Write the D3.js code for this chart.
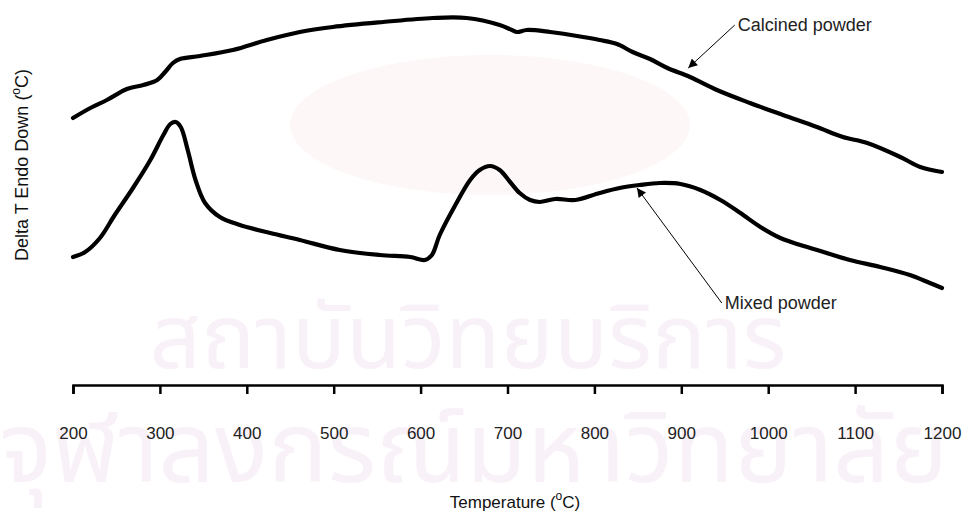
<!DOCTYPE html>
<html>
<head>
<meta charset="utf-8">
<script src="https://cdn.jsdelivr.net/npm/d3@7"></script>
<style>
  body { margin: 0; background: #fff; }
  svg text { font-family: "Liberation Sans", Arial, Helvetica, sans-serif; }
</style>
</head>
<body>
<div id="chart"></div>
<script>
// DTA traces: temperature (°C) and Delta T (arbitrary units)
var calcinedTemp = [200, 220, 239, 262, 281, 297, 306, 315, 323, 346, 384, 423, 461, 499, 557, 614, 653, 691, 705, 711, 722, 749, 787, 806, 826, 844, 864, 884, 910, 941, 979, 1017, 1056, 1086, 1114, 1152, 1175, 1200];
var calcinedDT = [10.68, 11.08, 11.40, 11.84, 12.00, 12.20, 12.52, 12.88, 13.04, 13.16, 13.40, 13.80, 14.12, 14.32, 14.52, 14.68, 14.68, 14.40, 14.20, 14.12, 14.20, 14.12, 13.92, 13.80, 13.64, 13.32, 13.04, 12.68, 12.32, 11.80, 11.28, 10.80, 10.32, 9.92, 9.68, 9.12, 8.72, 8.52];

var mixedTemp = [200, 214, 231, 248, 269, 289, 304, 312, 318, 324, 332, 341, 352, 369, 392, 427, 461, 507, 553, 588, 605, 613, 622, 640, 657, 668, 680, 691, 703, 714, 726, 737, 755, 778, 806, 829, 852, 875, 899, 922, 945, 968, 991, 1014, 1037, 1060, 1094, 1129, 1163, 1186, 1200];
var mixedDT = [5.12, 5.32, 5.88, 6.80, 7.88, 9.00, 10.00, 10.44, 10.52, 10.32, 9.40, 8.20, 7.28, 6.72, 6.40, 6.08, 5.80, 5.40, 5.20, 5.12, 5.00, 5.20, 6.00, 7.20, 8.20, 8.60, 8.76, 8.60, 8.12, 7.68, 7.40, 7.32, 7.44, 7.40, 7.68, 7.88, 8.00, 8.08, 8.04, 7.80, 7.40, 6.88, 6.32, 5.88, 5.60, 5.36, 5.00, 4.72, 4.40, 4.08, 3.88];

var xTicks = [200, 300, 400, 500, 600, 700, 800, 900, 1000, 1100, 1200];

// annotation labels: [text, label T, label DT, arrow tip T, arrow tip DT]
var notes = [
  ["Calcined powder", 965, 14.40, 908, 12.68],
  ["Mixed powder", 950, 3.28, 849, 7.88]
];

var width = 964, height = 513;
var svg = d3.select("#chart").append("svg")
  .attr("width", width)
  .attr("height", height);

var x = d3.scaleLinear().domain([200, 1200]).range([73, 942]);
var y = d3.scaleLinear().domain([0, 15.4]).range([385, 0]);
var axisY = 385;

// faint watermark behind the plot
var wm = svg.append("g").attr("class", "watermark");
wm.append("ellipse")
  .attr("cx", 490).attr("cy", 125)
  .attr("rx", 200).attr("ry", 70)
  .attr("fill", "#fef7f8");
wm.append("text")
  .attr("x", 468).attr("y", 368)
  .attr("text-anchor", "middle")
  .style("font-size", "90px")
  .style("font-family", "'Noto Sans Thai', 'Noto Sans', 'DejaVu Sans', sans-serif")
  .attr("fill", "#f9f1f8")
  .text("สถาบันวิทยบริการ");
wm.append("text")
  .attr("x", 474).attr("y", 482)
  .attr("text-anchor", "middle")
  .style("font-size", "99px")
  .style("font-family", "'Noto Sans Thai', 'Noto Sans', 'DejaVu Sans', sans-serif")
  .attr("fill", "#f9f1f8")
  .text("จุฬาลงกรณ์มหาวิทยาลัย");

// x axis
var xAxis = svg.append("g")
  .attr("transform", "translate(0," + axisY + ")")
  .call(d3.axisBottom(x).tickValues(xTicks).tickFormat(d3.format("d"))
    .tickSize(9).tickSizeOuter(9).tickPadding(33));
xAxis.select(".domain").attr("stroke", "#000").attr("stroke-width", 2.5);
xAxis.selectAll(".tick line").attr("stroke", "#000").attr("stroke-width", 2.5);
xAxis.selectAll(".tick text")
  .attr("fill", "#222")
  .style("font-size", "17px")
  .style("font-family", "'Liberation Sans', Arial, sans-serif");

// axis titles
var xt = svg.append("text")
  .attr("x", 515).attr("y", 508)
  .attr("text-anchor", "middle")
  .style("font-size", "17px")
  .attr("fill", "#111");
xt.append("tspan").text("Temperature (");
xt.append("tspan").attr("dy", -8).style("font-size", "12px").text("o");
xt.append("tspan").attr("dy", 8).text("C)");

var yt = svg.append("text")
  .attr("transform", "translate(28,165) rotate(-90)")
  .attr("text-anchor", "middle")
  .style("font-size", "18px")
  .attr("fill", "#111");
yt.append("tspan").text("Delta T Endo Down (");
yt.append("tspan").attr("dy", -8).style("font-size", "12px").text("o");
yt.append("tspan").attr("dy", 8).text("C)");

// curves
var line = d3.line()
  .x(function(d) { return x(d[0]); })
  .y(function(d) { return y(d[1]); })
  .curve(d3.curveCatmullRom.alpha(0.5));

var series = [
  d3.zip(calcinedTemp, calcinedDT),
  d3.zip(mixedTemp, mixedDT)
];
series.forEach(function(s) {
  svg.append("path")
    .attr("d", line(s))
    .attr("fill", "none")
    .attr("stroke", "#000")
    .attr("stroke-width", 4.2)
    .attr("stroke-linejoin", "round")
    .attr("stroke-linecap", "round");
});

// annotation arrows
svg.append("defs").append("marker")
  .attr("id", "head")
  .attr("viewBox", "0 0 10 10")
  .attr("refX", 10).attr("refY", 5)
  .attr("markerWidth", 11).attr("markerHeight", 9)
  .attr("markerUnits", "userSpaceOnUse")
  .attr("orient", "auto")
  .append("path")
  .attr("d", "M0,0L10,5L0,10z")
  .attr("fill", "#000");

notes.forEach(function(n) {
  svg.append("line")
    .attr("x1", x(n[1]) - 3).attr("y1", y(n[2]))
    .attr("x2", x(n[3])).attr("y2", y(n[4]))
    .attr("stroke", "#000")
    .attr("stroke-width", 1)
    .attr("marker-end", "url(#head)");
  svg.append("text")
    .attr("x", x(n[1])).attr("y", y(n[2]))
    .attr("dy", "0.35em")
    .style("font-size", "18px")
    .attr("fill", "#222")
    .text(n[0]);
});
</script>
</body>
</html>
